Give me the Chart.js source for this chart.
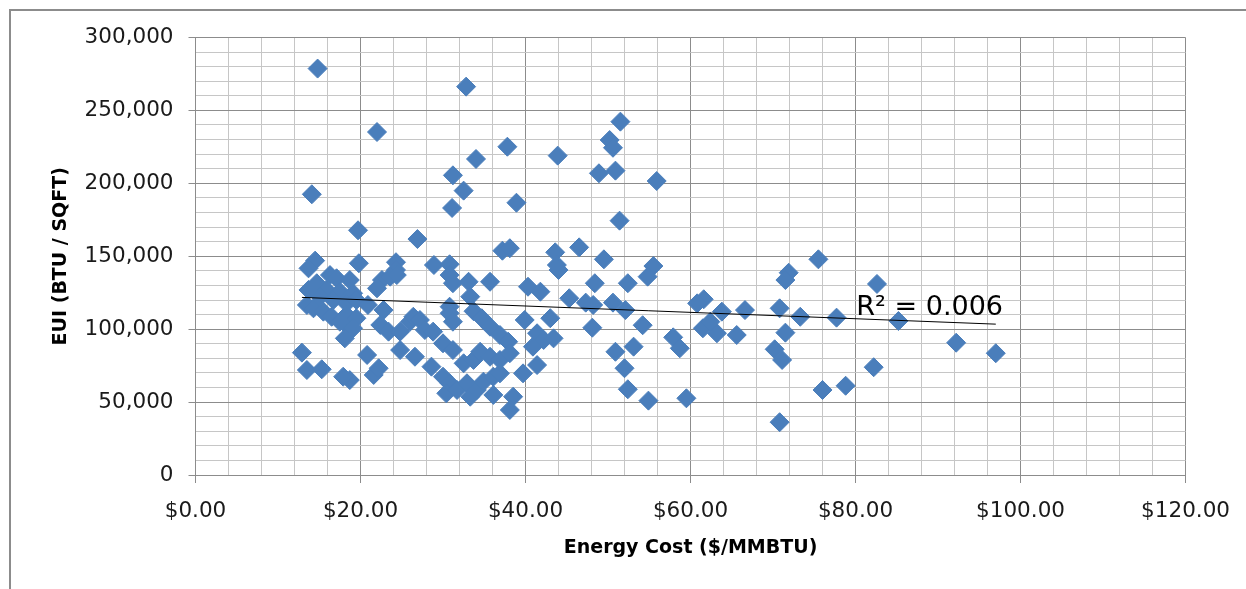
<!DOCTYPE html>
<html>
<head>
<meta charset="utf-8">
<script src="https://cdn.jsdelivr.net/npm/chart.js@4.4.1/dist/chart.umd.min.js"></script>
<style>
  html, body { margin: 0; padding: 0; background: #fff; }
  body { width: 1246px; height: 589px; position: relative; overflow: hidden; }
  #frame { position: absolute; left: 9px; top: 9px; width: 1300px; height: 650px;
           border-left: 2px solid #8c8c8c; border-top: 2px solid #8c8c8c; }
  #wrap { position: absolute; left: 0; top: 0; width: 1246px; height: 589px; }
</style>
</head>
<body>
<div id="frame"></div>
<div id="wrap"><canvas id="scatterChart"></canvas></div>
<script>
// energy cost per building ($/MMBTU)
const energyCost = [
  14.8, 32.8, 22.0, 37.8, 34.0, 43.9, 31.2, 32.5, 14.1, 31.1, 38.9, 19.7, 26.9, 37.2, 38.1, 43.6, 46.5, 14.5, 19.8, 24.3, 28.9, 30.8, 43.8,
  51.5, 50.2, 50.6, 48.9, 50.9, 55.9, 51.4, 49.5, 55.5, 75.5,
  54.8, 48.4, 52.4, 45.3, 47.3, 48.2, 50.6, 52.1, 48.1, 54.2, 50.9, 53.1, 52.0, 52.4, 54.9, 59.5, 57.9, 58.7, 61.6, 60.8,
  63.8, 66.6, 61.5, 63.2, 62.4, 65.6, 71.9, 71.5, 70.8, 73.3, 77.7, 71.5, 70.2, 71.1, 70.8, 76.0, 78.8, 82.6, 82.2, 85.2, 92.2, 97.0,
  24.3, 44.0, 13.7, 16.3, 17.1, 18.7, 14.7, 22.6, 23.6, 24.4, 22.0, 13.7, 15.9, 17.5, 19.1, 30.8, 31.2, 33.1, 35.7, 33.3,
  40.3, 41.8, 30.8, 13.5, 14.3, 15.5, 16.5, 17.5, 18.3, 15.1, 16.7, 18.3, 19.5, 18.3, 19.5, 19.1, 18.1, 20.9, 22.8, 22.4,
  23.4, 24.8, 26.0, 26.4, 27.2, 27.8, 28.8, 24.8, 26.6, 28.6, 12.9, 13.5, 15.3, 18.7, 17.9, 20.8, 21.6, 22.2, 30.0, 31.2,
  30.8, 31.2, 33.7, 34.7, 35.7, 36.9, 37.9, 32.5, 33.7, 34.5, 35.7, 36.9, 38.1, 30.0, 30.8, 30.4, 31.7, 32.9, 33.3, 34.1,
  34.9, 36.1, 36.9, 36.1, 38.5, 38.1, 39.7, 41.4, 39.9, 43.0, 41.4, 42.2, 43.4, 40.9
];

// EUI per building, in thousands of BTU / SQFT
const euiThousands = [
  278.7, 266.3, 235.2, 225.1, 216.7, 219.0, 205.5, 195.0, 192.5, 183.1, 186.7, 167.8, 161.8, 153.8, 155.5, 152.7, 156.1, 147.0, 145.2, 145.9, 144.0, 144.5, 144.0,
  242.3, 229.7, 224.4, 206.9, 208.7, 201.6, 174.4, 147.9, 143.3, 147.9,
  136.0, 131.5, 131.5, 121.2, 118.2, 116.6, 118.2, 113.1, 101.0, 102.7, 84.5, 88.0, 73.2, 58.8, 51.0, 52.6, 94.4, 86.9, 120.5, 117.7,
  112.0, 113.1, 100.6, 97.2, 105.1, 96.0, 138.7, 133.7, 114.3, 108.5, 107.9, 97.6, 86.2, 78.9, 36.2, 58.3, 61.2, 131.0, 73.9, 105.6, 90.7, 83.5,
  140.6, 140.6, 141.7, 137.1, 134.9, 133.7, 131.5, 133.7, 136.0, 137.1, 128.0, 126.9, 126.9, 125.7, 124.6, 137.1, 131.5, 132.5, 132.5, 122.3,
  129.1, 125.7, 115.4, 116.6, 114.3, 112.0, 108.5, 105.1, 102.9, 122.3, 120.0, 117.7, 120.0, 109.7, 107.5, 100.6, 93.7, 116.6, 113.1, 102.9,
  98.3, 98.3, 105.1, 108.5, 106.3, 99.4, 98.3, 85.7, 81.1, 74.3, 83.9, 72.0, 72.5, 65.1, 67.4, 82.3, 68.6, 73.2, 90.3, 85.7,
  110.9, 105.1, 112.3, 107.5, 101.7, 96.0, 91.4, 76.6, 78.9, 84.5, 81.1, 78.9, 83.5, 67.4, 62.9, 56.0, 58.3, 62.9, 53.7, 58.3,
  64.0, 67.4, 69.7, 54.9, 53.7, 44.6, 69.7, 75.4, 106.3, 107.5, 97.2, 92.6, 93.7, 88.0
];

const xTickLabels = ['$0.00', '$20.00', '$40.00', '$60.00', '$80.00', '$100.00', '$120.00'];
const yTickLabels = ['0', '50,000', '100,000', '150,000', '200,000', '250,000', '300,000'];

const points = energyCost.map((c, i) => ({ x: c, y: euiThousands[i] * 1000 }));

// linear trend (least squares)
const n = points.length;
const meanX = points.reduce((s, p) => s + p.x, 0) / n;
const meanY = points.reduce((s, p) => s + p.y, 0) / n;
let sxy = 0, sxx = 0;
points.forEach(p => { sxy += (p.x - meanX) * (p.y - meanY); sxx += (p.x - meanX) * (p.x - meanX); });
const slope = sxy / sxx;
const intercept = meanY - slope * meanX;
const minX = Math.min(...energyCost), maxX = Math.max(...energyCost);
const trend = [
  { x: minX, y: intercept + slope * minX },
  { x: maxX, y: intercept + slope * maxX }
];

Chart.defaults.font.family = "'DejaVu Sans', sans-serif";

const MAJOR = '#8c8c8c';
const MINOR = '#c6c6c6';

const r2Label = {
  id: 'r2Label',
  afterDatasetsDraw(chart) {
    const { ctx, scales: { x, y } } = chart;
    ctx.save();
    ctx.font = "27px 'DejaVu Sans', sans-serif";
    ctx.fillStyle = '#000';
    ctx.textAlign = 'left';
    ctx.textBaseline = 'alphabetic';
    ctx.fillText('R\u00B2 = 0.006', x.getPixelForValue(80.1), y.getPixelForValue(110000));
    ctx.restore();
  }
};

const ctx = document.getElementById('scatterChart').getContext('2d');
const scatterChart = new Chart(ctx, {
  type: 'scatter',
  data: {
    datasets: [
      {
        label: 'Trend',
        data: trend,
        showLine: true,
        borderColor: '#000',
        borderWidth: 1,
        pointRadius: 0,
        order: 0
      },
      {
        label: 'EUI',
        data: points,
        pointStyle: 'rectRot',
        pointRadius: 9.5,
        backgroundColor: '#4A7EBB',
        borderColor: '#4A7EBB',
        borderWidth: 1,
        order: 1
      }
    ]
  },
  options: {
    responsive: true,
    maintainAspectRatio: false,
    animation: false,
    layout: { padding: { left: 0, top: 37.5, right: 60, bottom: 0 } },
    scales: {
      x: {
        type: 'linear',
        min: 0,
        max: 120,
        afterFit: (scale) => { scale.height = 114; },
        ticks: {
          stepSize: 4,
          autoSkip: false,
          maxRotation: 0,
          padding: 16,
          color: '#1a1a1a',
          font: { size: 21.5 },
          callback: (v) => Math.round(v) % 20 === 0 ? xTickLabels[Math.round(v) / 20] : ''
        },
        grid: {
          color: (c) => (c.tick && Math.round(c.tick.value) % 20 === 0) ? MAJOR : MINOR,
          tickColor: (c) => (c.tick && Math.round(c.tick.value) % 20 === 0) ? MAJOR : 'rgba(0,0,0,0)',
          tickLength: 8,
          lineWidth: 1
        },
        border: { color: MAJOR },
        title: {
          display: true,
          text: 'Energy Cost ($/MMBTU)',
          color: '#000',
          font: { size: 19, weight: 'bold' },
          padding: { top: 0, bottom: 30 }
        }
      },
      y: {
        min: 0,
        max: 300000,
        afterFit: (scale) => { scale.width = 195.5; },
        ticks: {
          stepSize: 10000,
          autoSkip: false,
          padding: 15,
          color: '#1a1a1a',
          font: { size: 21.5 },
          callback: (v) => Math.round(v) % 50000 === 0 ? yTickLabels[Math.round(v) / 50000] : ''
        },
        grid: {
          color: (c) => (c.tick && Math.round(c.tick.value) % 50000 === 0) ? MAJOR : MINOR,
          tickColor: (c) => (c.tick && Math.round(c.tick.value) % 50000 === 0) ? MAJOR : 'rgba(0,0,0,0)',
          tickLength: 7,
          lineWidth: 1
        },
        border: { color: MAJOR },
        title: {
          display: true,
          text: 'EUI (BTU / SQFT)',
          color: '#000',
          font: { size: 19, weight: 'bold' },
          padding: { top: 49.5, bottom: 0 }
        }
      }
    },
    plugins: {
      legend: { display: false },
      tooltip: { enabled: false }
    }
  },
  plugins: [r2Label]
});
</script>
</body>
</html>
